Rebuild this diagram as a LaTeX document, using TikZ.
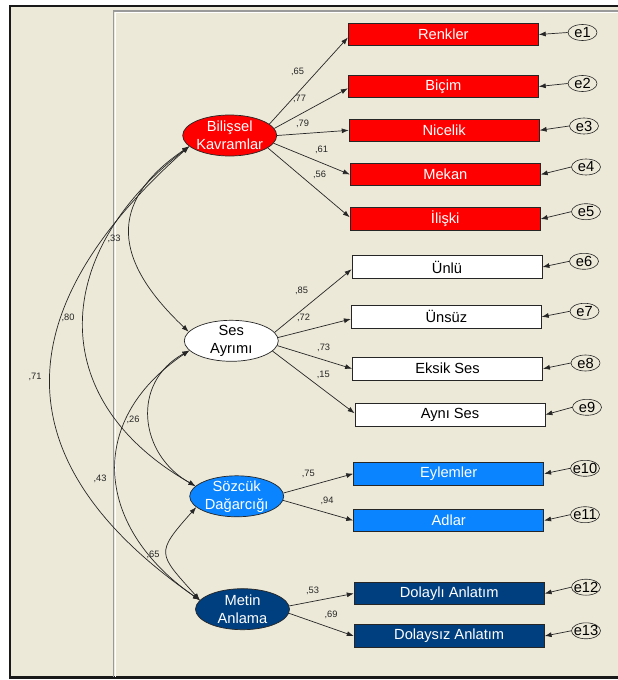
\documentclass[tikz,border=0pt]{standalone}
\usepackage{fontspec}
\setmainfont{Liberation Sans}
\usetikzlibrary{shapes.geometric,arrows.meta}

\definecolor{canvas}{HTML}{ECE9D8}
\definecolor{bkred}{HTML}{FF0000}
\definecolor{sdblue}{HTML}{0A84FF}
\definecolor{manavy}{HTML}{003F7F}
\definecolor{frameline}{HTML}{9A9A9A}

\tikzset{
  headtip/.style={-{Latex[length=7pt,width=5pt]}},
  twoheads/.style={{Latex[length=7pt,width=5pt]}-{Latex[length=7pt,width=5pt]}},
  link/.style={draw=black!85, line width=0.7pt},
  nodefont/.style={font=\fontsize{14.67}{18}\selectfont},
  latent/.style={ellipse, draw=black!85, line width=0.7pt, minimum width=94pt,
    minimum height=41pt, inner sep=0pt},
  lbl/.style={align=center, inner sep=0pt, nodefont},
  obs/.style={rectangle, draw=black!85, line width=0.8pt, minimum width=190pt,
    minimum height=22.5pt, inner sep=0pt, nodefont},
  errnode/.style={ellipse, draw=black!85, line width=0.6pt, minimum width=29pt,
    minimum height=16pt, inner sep=0pt},
  coef/.style={font=\fontsize{9.3}{10}\selectfont, text=black!85, inner sep=0pt},
}

\begin{document}
\begin{tikzpicture}[x=1pt,y=-1pt]
\useasboundingbox (0,0) rectangle (618,680);

% window frame
\fill[white] (0,0) rectangle (618,680);
\fill[canvas] (10,6) rectangle (620,677.5);
\draw[black!90, line width=2.2pt] (621,6) -- (10,6) -- (10,677.5) -- (621,677.5);
\draw[frameline, line width=1.4pt] (113.5,676.5) -- (113.5,11) -- (621,11);
\draw[white, line width=0.7pt] (115,676.5) -- (115,12.5) -- (621,12.5);

% latent variables
\node[latent, fill=bkred, label={[lbl, text=white]center:Bilişsel\\Kavramlar}] (bk) at (229.7,135.5) {};
\node[latent, fill=white, label={[lbl, text=black]center:Ses\\Ayrımı}] (sa) at (231.3,340.8) {};
\node[latent, fill=sdblue, label={[lbl, text=white]center:Sözcük\\Dağarcığı}] (sd) at (236.7,496.3) {};
\node[latent, fill=manavy, label={[lbl, text=white]center:Metin\\Anlama}] (ma) at (242.5,609.2) {};

% observed variables
\node[obs, fill=bkred, text=white] (renk) at (443.3,34.5) {Renkler};
\node[obs, fill=bkred, text=white] (bicim) at (443.3,86.5) {Biçim};
\node[obs, fill=bkred, text=white] (nicel) at (444.2,130.3) {Nicelik};
\node[obs, fill=bkred, text=white] (mekan) at (445.3,174.5) {Mekan};
\node[obs, fill=bkred, text=white] (iliski) at (445.2,219) {İlişki};
\node[obs, fill=white] (unlu) at (447,267) {Ünlü};
\node[obs, fill=white] (unsuz) at (446.3,316.8) {Ünsüz};
\node[obs, fill=white] (eksik) at (447.5,368.7) {Eksik Ses};
\node[obs, fill=white] (ayni) at (450,414.7) {Aynı Ses};
\node[obs, fill=sdblue, text=white] (eylem) at (448.7,473.7) {Eylemler};
\node[obs, fill=sdblue, text=white] (adlar) at (448.7,520.5) {Adlar};
\node[obs, fill=manavy, text=white] (dolayli) at (449.2,593.5) {Dolaylı Anlatım};
\node[obs, fill=manavy, text=white] (dolaysiz) at (449.2,636) {Dolaysız Anlatım};

% error terms
\node[errnode, label={[lbl]center:e1}] (e1) at (582.5,32.5) {};
\node[errnode, label={[lbl]center:e2}] (e2) at (582.5,83.5) {};
\node[errnode, label={[lbl]center:e3}] (e3) at (584,126) {};
\node[errnode, label={[lbl]center:e4}] (e4) at (586,167) {};
\node[errnode, label={[lbl]center:e5}] (e5) at (586,211.7) {};
\node[errnode, label={[lbl]center:e6}] (e6) at (584,261.3) {};
\node[errnode, label={[lbl]center:e7}] (e7) at (584.5,311.3) {};
\node[errnode, label={[lbl]center:e8}] (e8) at (585.5,363) {};
\node[errnode, label={[lbl]center:e9}] (e9) at (587,407.3) {};
\node[errnode, label={[lbl]center:e10}] (e10) at (585,468.3) {};
\node[errnode, label={[lbl]center:e11}] (e11) at (585,514.7) {};
\node[errnode, label={[lbl]center:e12}] (e12) at (586,587.2) {};
\node[errnode, label={[lbl]center:e13}] (e13) at (586,630.8) {};

% error paths
\foreach \e/\o in {e1/renk,e2/bicim,e3/nicel,e4/mekan,e5/iliski,e6/unlu,e7/unsuz,
                   e8/eksik,e9/ayni,e10/eylem,e11/adlar,e12/dolayli,e13/dolaysiz}
  \draw[link, headtip] (\e.west) -- (\o.east);

% factor loadings
\draw[link, headtip] (bk.16) -- ([yshift=-3pt]renk.west);
\draw[link, headtip] (bk.9) -- ([yshift=-1.8pt]bicim.west);
\draw[link, headtip] (bk.0) -- (nicel.west);
\draw[link, headtip] (bk.350) -- (mekan.west);
\draw[link, headtip] (bk.342) -- ([yshift=1.7pt]iliski.west);
\draw[link, headtip] (sa.11) -- ([yshift=-2.2pt]unlu.west);
\draw[link, headtip] (sa.4) -- ([yshift=-2.2pt]unsuz.west);
\draw[link, headtip] (sa.354) -- (eksik.west);
\draw[link, headtip] (sa.346) -- ([yshift=1.4pt]ayni.west);
\draw[link, headtip] (sd.4) -- (eylem.west);
\draw[link, headtip] (sd.355) -- (adlar.west);
\draw[link, headtip] (ma.4) -- (dolayli.west);
\draw[link, headtip] (ma.355) -- (dolaysiz.west);

% loading values
\node[coef] at (297.5,72) {,65};
\node[coef] at (299.5,99) {,77};
\node[coef] at (302.5,123.5) {,79};
\node[coef] at (321.5,149.5) {,61};
\node[coef] at (319.5,175) {,56};
\node[coef] at (301.5,291) {,85};
\node[coef] at (303.5,318) {,72};
\node[coef] at (323.7,348) {,73};
\node[coef] at (323.3,374.5) {,15};
\node[coef] at (308.3,473.5) {,75};
\node[coef] at (327,501.3) {,94};
\node[coef] at (312.5,590.5) {,53};
\node[coef] at (331,615) {,69};

% correlations between factors
\draw[link, twoheads] (bk.195) .. controls (106,203) and (114,261) .. (sa.168);
\draw[link, twoheads] (bk.195) .. controls (52,252) and (43,399) .. (sd.166);
\draw[link, twoheads] (bk.195) .. controls (7,308.5) and (-1.4,460.5) .. (ma.168);
\draw[link, twoheads] (sa.193) .. controls (130.6,382.7) and (139,454.6) .. (sd.166);
\draw[link, twoheads] (sa.193) .. controls (83.4,422.3) and (96.8,529.3) .. (ma.168);
\draw[link, twoheads] (sd.195) .. controls (154.7,553.7) and (158.1,553.3) .. (ma.168);

% correlation values
\node[coef] at (114,239) {,33};
\node[coef] at (68,318) {,80};
\node[coef] at (35,376.7) {,71};
\node[coef] at (133,420) {,26};
\node[coef] at (100,479) {,43};
\node[coef] at (153,554.5) {,65};
\end{tikzpicture}
\end{document}
